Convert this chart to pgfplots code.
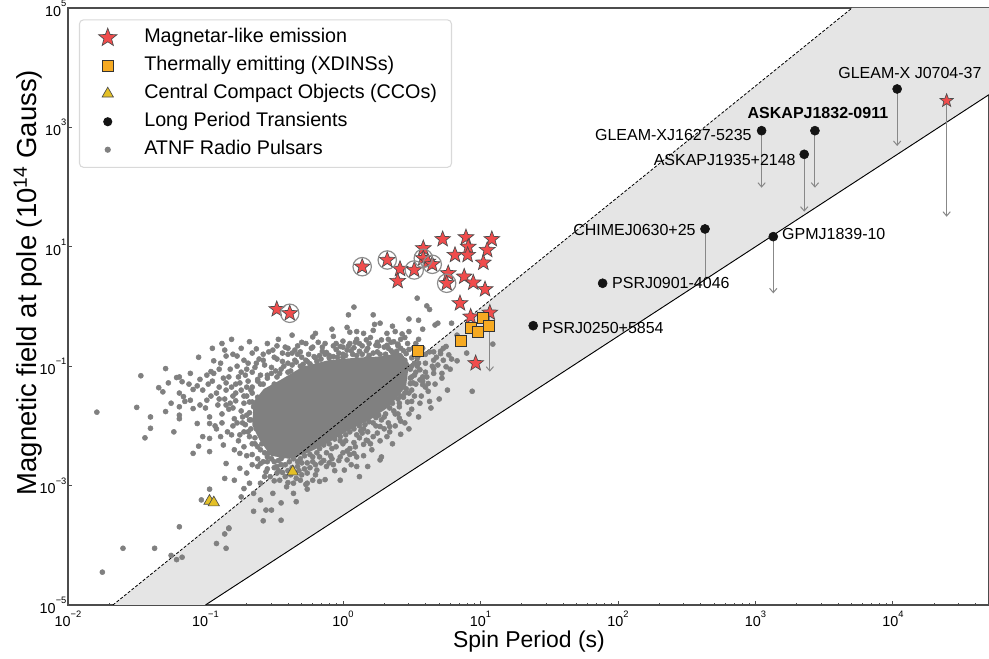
\documentclass[border=0pt]{standalone}
\usepackage{fontspec}
\setmainfont{Liberation Sans}
\usepackage{pgfplots}
\pgfplotsset{compat=1.18}
\usepackage{pgfplotstable}
\usetikzlibrary{arrows.meta,plotmarks}

\definecolor{magred}{RGB}{240,76,76}
\definecolor{xdorange}{RGB}{246,170,34}
\definecolor{ccoyellow}{RGB}{228,192,38}
\definecolor{bandgray}{RGB}{229,229,229}
\definecolor{psrgray}{RGB}{128,128,128}
\definecolor{arrgray}{RGB}{136,136,136}
\definecolor{lptblack}{RGB}{20,20,20}

% filled five-pointed star mark
\pgfdeclareplotmark{fstar}{%
  \pgfpathmoveto{\pgfqpointpolar{90}{\pgfplotmarksize}}%
  \pgfpathlineto{\pgfqpointpolar{126}{0.42\pgfplotmarksize}}%
  \pgfpathlineto{\pgfqpointpolar{162}{\pgfplotmarksize}}%
  \pgfpathlineto{\pgfqpointpolar{198}{0.42\pgfplotmarksize}}%
  \pgfpathlineto{\pgfqpointpolar{234}{\pgfplotmarksize}}%
  \pgfpathlineto{\pgfqpointpolar{270}{0.42\pgfplotmarksize}}%
  \pgfpathlineto{\pgfqpointpolar{306}{\pgfplotmarksize}}%
  \pgfpathlineto{\pgfqpointpolar{342}{0.42\pgfplotmarksize}}%
  \pgfpathlineto{\pgfqpointpolar{18}{\pgfplotmarksize}}%
  \pgfpathlineto{\pgfqpointpolar{54}{0.42\pgfplotmarksize}}%
  \pgfpathclose
  \pgfusepathqfillstroke
}

\newcommand{\tenpow}[1]{10\raisebox{7.4pt}{\fontsize{7}{8}\selectfont #1}}

% ATNF pulsars, log10(P/s) and log10(B/1e14 G), read off the picture
\pgfplotstableread{
lp lb
0.54 0.14
0.61 0.01
0.63 -0.05
0.48 -0.21
0.55 -0.23
0.67 -0.31
0.69 -0.28
0.27 -0.28
0.22 -0.14
0.08 -0.01
0.04 -0.14
-0.08 -0.38
-0.22 -0.51
0.05 -0.43
0.15 -0.45
0.22 -0.40
0.32 -0.45
0.38 -0.42
0.43 -0.46
0.37 -0.59
0.40 -0.63
0.32 -0.65
0.24 -0.65
0.17 -0.56
0.10 -0.55
-0.02 -0.67
-0.07 -0.66
0.03 -0.73
0.08 -0.69
-0.12 -0.77
-0.31 -0.76
-0.35 -0.73
-0.48 -0.66
-0.51 -0.73
-0.54 -0.76
-0.63 -0.71
-0.68 -0.59
-0.81 -0.55
-0.86 -0.73
-0.85 -0.83
-0.77 -0.83
-0.72 -0.90
-0.94 -0.91
-0.96 -1.09
-0.99 -1.15
-1.04 -1.22
-1.19 -1.18
-1.21 -1.19
-1.17 -1.26
-1.11 -1.12
-1.29 -1.04
-1.47 -1.16
-1.34 -1.36
-1.27 -1.28
-1.31 -1.43
-1.19 -1.45
-1.16 -1.51
-1.09 -1.39
-1.06 -1.33
-1.11 -1.57
-1.15 -1.59
-1.19 -1.68
-1.09 -1.71
-1.04 -1.65
-0.99 -1.57
-0.92 -1.45
-0.85 -1.40
-1.50 -1.69
-1.40 -1.85
-1.29 -1.76
-1.19 -1.82
-1.19 -1.88
-1.06 -1.96
-0.97 -1.96
-1.40 -2.04
-1.44 -2.20
-1.23 -2.10
-1.02 -2.18
-0.97 -2.21
-0.89 -2.18
-0.81 -2.15
-1.05 -2.34
-0.97 -2.43
-0.87 -2.32
-0.79 -2.40
-0.75 -2.46
-0.85 -2.63
-0.75 -2.71
-0.70 -2.79
-0.66 -2.65
-0.60 -2.63
-0.56 -2.77
-0.79 -2.91
-0.68 -2.96
-0.60 -2.96
-0.53 -2.85
-0.48 -2.79
-0.97 -3.06
-0.86 -2.88
-0.72 -3.05
-0.65 -3.13
-0.46 -2.91
-0.41 -3.02
-0.36 -2.96
-0.31 -2.91
-0.26 -2.96
-0.22 -2.91
-0.17 -2.93
-0.51 -3.13
-0.60 -3.24
-0.56 -3.41
-0.65 -3.43
-0.52 -3.41
-0.45 -3.29
-0.34 -3.27
-0.26 -3.06
-0.36 -3.13
-0.45 -3.58
-0.58 -3.59
-0.83 -3.72
-1.19 -3.69
-1.03 -3.24
-0.74 -3.19
0.41 -1.68
0.50 -1.59
0.63 -1.59
0.41 -1.87
0.34 -2.01
0.27 -2.01
0.22 -2.18
0.32 -2.18
0.28 -2.52
0.10 -2.68
0.08 -2.46
0.15 -2.31
0.03 -2.57
-0.07 -2.65
-0.12 -2.68
-0.19 -2.74
-0.26 -2.79
0.49 -1.29
0.56 -1.23
0.66 -1.12
0.72 -1.12
0.73 -0.90
0.62 -1.29
0.66 -0.90
-1.79 -1.77
-1.75 -4.45
-1.60 -4.05
-1.37 -4.05
-1.25 -4.17
-1.21 -4.24
-1.17 -4.20
-0.92 -3.97
-0.85 -4.05
-0.86 -3.81
-0.83 -3.71
-1.09 -2.46
-0.02 -2.91
0.01 -2.74
0.10 -2.52
0.14 -2.12
0.17 -2.24
0.27 -2.57
0.18 -2.68
0.12 -2.85
0.79 -0.28
0.83 -0.48
0.86 -0.59
0.90 -0.78
0.79 -0.88
0.83 -0.91
0.77 -0.81
0.73 -0.70
0.71 -0.75
1.09 -0.63
0.94 -1.42
0.58 -1.31
0.42 -2.14
0.66 -0.76
0.52 -0.95
0.56 -1.06
0.58 -1.18
0.49 -1.05
0.46 -0.79
0.54 -0.87
0.60 -0.95
0.66 -1.04
0.71 -0.79
0.75 -1.01
0.50 -1.18
0.44 -1.09
0.63 -0.76
0.75 -0.67
-0.45 -1.05
-0.40 -0.95
-0.35 -0.90
-0.30 -0.85
-0.25 -0.80
-0.20 -0.86
-0.15 -0.75
-0.10 -0.82
-0.05 -0.72
0.00 -0.80
0.05 -0.62
0.12 -0.75
0.18 -0.70
0.25 -0.76
0.30 -0.68
0.35 -0.74
0.42 -0.70
0.47 -0.62
-0.27 -0.62
-0.18 -0.60
0.00 -0.58
0.12 -0.62
0.28 -0.56
0.45 -0.52
-0.40 -0.80
-0.58 -0.90
-0.55 -1.15
-0.52 -1.02
-0.50 -1.30
-0.42 -0.68
-0.95 -1.25
-0.90 -1.55
-0.88 -1.80
-0.85 -1.28
-0.82 -1.62
-0.80 -2.00
-0.78 -1.45
-0.76 -1.18
-0.74 -1.75
-0.72 -2.10
-0.70 -1.35
-0.68 -1.60
-0.67 -1.90
-0.66 -1.10
-0.64 -2.30
-0.62 -1.25
-0.63 -1.72
-0.70 -2.50
-0.92 -2.05
-0.90 -1.05
-0.60 -2.40
-0.55 -2.60
-0.50 -2.70
-0.45 -2.65
-0.40 -2.75
-0.33 -2.68
-0.28 -2.72
-0.22 -2.60
-0.17 -2.52
-0.12 -2.45
-0.05 -2.35
0.02 -2.25
0.10 -2.15
0.15 -2.05
0.22 -1.95
0.30 -1.85
-0.42 -2.85
-0.10 -2.62
0.05 -2.48
0.20 -2.30
-0.52 -2.55
-0.30 -2.82
0.00 -2.45
0.50 -1.40
0.53 -1.10
0.55 -0.95
0.58 -1.25
0.60 -0.80
0.47 -1.60
0.40 -1.80
0.65 -1.00
0.68 -0.85
0.54 -0.75
0.52 -1.50
0.45 -1.45
0.36 -1.62
-0.68 -1.90
-0.66 -1.45
-0.60 -1.30
-0.48 -1.18
-0.38 -1.08
-0.29 -0.97
-0.19 -0.92
-0.10 -0.86
0.00 -0.85
0.10 -0.82
0.19 -0.82
0.27 -0.80
0.36 -0.77
0.44 -0.74
0.50 -0.86
0.50 -1.00
0.49 -1.20
0.46 -1.38
0.40 -1.55
0.34 -1.70
0.26 -1.82
0.19 -1.93
0.12 -2.00
0.05 -2.10
-0.02 -2.18
-0.10 -2.30
-0.17 -2.38
-0.24 -2.48
-0.31 -2.55
-0.39 -2.60
-0.47 -2.58
-0.55 -2.52
-0.64 -2.20
-0.67 -2.05
-0.66 -1.60
-1.02 -1.40
-1.00 -1.70
-0.98 -1.30
-0.97 -1.85
-0.96 -1.50
-0.94 -1.12
-0.93 -2.00
-0.91 -1.65
-0.90 -1.35
-0.89 -0.95
-0.88 -1.95
-0.87 -1.20
-0.86 -1.55
-0.84 -2.10
-0.83 -1.72
-0.82 -1.05
-0.81 -1.35
-0.80 -0.80
-0.79 -1.88
-0.78 -1.58
-0.77 -1.00
-0.76 -2.25
-0.75 -1.28
-0.74 -0.70
-0.73 -1.95
-0.72 -1.50
-0.71 -1.15
-0.70 -1.82
-0.69 -0.95
-0.68 -2.18
-0.67 -1.40
-0.66 -0.78
-0.65 -1.68
-0.64 -1.02
-0.63 -2.05
-0.62 -1.52
-0.61 -0.88
-0.60 -1.15
-0.59 -2.30
-0.58 -1.62
-0.57 -0.98
-0.56 -1.42
-0.55 -0.62
-0.50 -0.85
-0.47 -0.55
-0.44 -0.92
-0.40 -0.70
-0.37 -0.48
-0.33 -0.80
-0.30 -0.60
-0.26 -0.92
-0.23 -0.70
-0.20 -0.45
-0.17 -0.82
-0.13 -0.62
-0.10 -0.95
-0.07 -0.50
-0.04 -0.85
0.00 -0.68
0.03 -0.35
0.07 -0.80
0.10 -0.42
0.14 -0.66
0.17 -0.88
0.20 -0.52
0.23 -0.30
0.26 -0.66
0.30 -0.88
0.33 -0.55
0.36 -0.33
0.39 -0.75
0.42 -0.55
0.45 -0.90
0.48 -0.42
0.51 -0.70
0.55 -0.55
0.58 -0.38
0.50 -1.72
0.53 -1.30
0.55 -1.85
0.57 -1.50
0.60 -1.10
0.62 -1.42
0.64 -1.70
0.67 -1.30
0.69 -0.98
0.70 -1.55
0.72 -1.20
0.76 -1.40
0.78 -1.05
0.45 -1.95
0.48 -2.05
0.38 -2.00
0.42 -1.50
-0.62 -2.55
-0.57 -2.85
-0.54 -2.45
-0.50 -2.92
-0.47 -2.75
-0.43 -2.50
-0.40 -2.95
-0.37 -2.70
-0.34 -2.88
-0.30 -2.62
-0.27 -2.98
-0.24 -2.70
-0.20 -2.82
-0.16 -2.62
-0.13 -2.90
-0.09 -2.50
-0.06 -2.75
-0.03 -2.58
0.00 -2.30
0.03 -2.42
0.06 -2.65
0.09 -2.35
0.12 -2.20
0.15 -2.50
0.18 -2.10
0.21 -2.40
0.24 -2.00
0.27 -2.25
0.30 -2.05
0.33 -1.95
0.36 -2.30
0.38 -1.80
-0.95 -0.70
-1.05 -0.85
-0.88 -0.62
-1.12 -1.30
-1.25 -1.62
-0.70 -1.50
-0.72 -1.62
-0.66 -1.35
-0.62 -1.22
-0.58 -1.30
-0.55 -1.20
-0.52 -1.12
-0.49 -1.08
-0.46 -1.12
-0.43 -1.00
-0.40 -1.10
-0.37 -0.98
-0.34 -0.93
-0.31 -1.00
-0.27 -0.90
-0.24 -0.96
-0.21 -0.84
-0.16 -0.88
-0.13 -0.80
-0.07 -0.84
-0.03 -0.78
0.02 -0.82
0.06 -0.74
0.14 -0.80
0.17 -0.74
0.22 -0.78
0.31 -0.80
0.33 -0.70
0.39 -0.78
0.48 -0.72
0.52 -0.80
0.54 -1.00
0.52 -1.15
0.51 -1.28
0.48 -1.45
0.44 -1.52
0.41 -1.62
0.37 -1.75
0.31 -1.80
0.28 -1.90
0.24 -1.86
0.16 -1.98
0.13 -2.08
0.08 -2.05
0.02 -2.15
-0.02 -2.25
-0.06 -2.22
-0.08 -2.38
-0.14 -2.32
-0.19 -2.45
-0.22 -2.52
-0.28 -2.50
-0.33 -2.60
-0.36 -2.55
-0.42 -2.65
-0.45 -2.55
-0.50 -2.60
-0.57 -2.45
-0.58 -2.60
-0.62 -2.35
-0.66 -2.30
-0.69 -2.10
-0.68 -1.78
-0.71 -1.98
-0.73 -1.85
-0.74 -1.40
-0.69 -1.25
-0.80 -1.70
-0.78 -1.30
-0.74 -1.10
-0.70 -1.05
-0.63 -0.95
-0.58 -0.80
-0.48 -0.88
-0.44 -0.78
-0.37 -0.78
-0.33 -0.66
-0.22 -0.68
-0.15 -0.68
-0.05 -0.62
0.04 -0.66
0.09 -0.60
0.19 -0.62
0.25 -0.60
0.35 -0.60
0.40 -0.66
0.53 -0.62
0.58 -0.70
0.61 -1.18
0.60 -1.35
0.56 -1.62
0.48 -1.80
0.42 -1.92
0.34 -2.10
0.25 -2.12
0.18 -2.25
0.08 -2.28
0.05 -2.38
-0.02 -2.52
-0.08 -2.55
-0.14 -2.58
-0.20 -2.65
-0.26 -2.62
-0.32 -2.75
-0.38 -2.82
-0.44 -2.78
-0.48 -2.68
-0.55 -2.72
-0.62 -2.68
-0.66 -2.48
-0.72 -2.35
-0.75 -2.15
-0.77 -1.95
-0.80 -1.50
-0.85 -1.65
-0.83 -1.18
}\cloudtab

% densest part of the pulsar population (outline of the solid grey core)
\pgfplotstableread{
lp lb
-0.64 -1.60
-0.57 -1.40
-0.45 -1.25
-0.29 -1.03
-0.10 -0.92
0.10 -0.88
0.27 -0.86
0.42 -0.80
0.47 -0.96
0.45 -1.33
0.33 -1.66
0.19 -1.88
0.04 -2.05
-0.11 -2.26
-0.25 -2.42
-0.39 -2.53
-0.52 -2.48
-0.60 -2.22
-0.65 -1.98
-0.64 -1.60
}\coretab

\pgfplotstableread{
P B
1.38 4.64
2.10 6.01
2.60 4.25
2.50 2.67
3.30 4.09
3.84 9.44
3.84 6.42
4.15 5.62
4.46 5.09
5.31 13.4
7.85 14.4
8.15 10.0
6.53 7.29
8.07 7.29
12.1 13.4
11.2 8.83
10.5 5.42
5.83 3.60
5.68 2.45
7.62 3.16
8.87 2.51
10.8 1.94
7.10 1.13
8.49 0.675
11.7 0.787
9.23 0.112
0.33 0.90
0.41 0.77
}\magtab

\pgfplotstableread{
P B
1.38 4.64
2.10 6.01
3.30 4.09
3.84 6.42
4.46 5.09
5.68 2.45
0.41 0.77
}\ringtab

\pgfplotstableread{
P B
3.49 0.182
7.21 0.267
8.53 0.441
9.64 0.370
10.5 0.634
11.6 0.471
}\xdtab

\pgfplotstableread{
P B
0.107 5.52e-4
0.115 5.18e-4
0.431 1.71e-3
}\ccotab

\pgfplotstableread{
P B
10740 4400
2710 881
1109 881
2265 354
430 19.9
1349 14.8
77.4 2.45
24.2 0.477
}\lpttab

\begin{document}
\begin{tikzpicture}
\begin{axis}[
  width=690.75pt, height=447.75pt, scale only axis,
  xmode=log, ymode=log,
  xmin=1e-2, xmax=5e4, ymin=1e-5, ymax=1e5,
  axis line style={black!70, line width=0.9pt},
  xtick={1e-2,1e-1,1,10,100,1000,10000},
  xticklabels={\tenpow{−2},\tenpow{−1},\tenpow{0},\tenpow{1},\tenpow{2},\tenpow{3},\tenpow{4}},
  minor xtick={0.02,0.03,0.04,0.05,0.06,0.07,0.08,0.09,0.2,0.3,0.4,0.5,0.6,0.7,0.8,0.9,2,3,4,5,6,7,8,9,20,30,40,50,60,70,80,90,200,300,400,500,600,700,800,900,2000,3000,4000,5000,6000,7000,8000,9000,20000,30000,40000},
  ytick={1e-5,1e-3,1e-1,10,1000,100000},
  yticklabels={\tenpow{−5},\tenpow{−3},\tenpow{−1},\tenpow{1},\tenpow{3},\tenpow{5}},
  yminorticks=false,
  tick align=inside, xtick pos=bottom, ytick pos=left,
  major tick length=3pt, minor tick length=1.6pt,
  tick style={black!70, line width=0.6pt},
  xticklabel style={anchor=base, inner sep=0pt, yshift=-16.5pt, font=\fontsize{10.8}{12}\selectfont},
  yticklabel style={anchor=base east, inner sep=0pt, xshift=-1pt, yshift=-6.3pt, font=\fontsize{10.8}{12}\selectfont},
  xlabel={Spin Period (s)},
  ylabel={Magnetic field at pole (10\textsuperscript{14} Gauss)},
  every axis x label/.style={at={(axis description cs:0.5005,-0.0704)}, anchor=base, font=\fontsize{17.2}{20}\selectfont},
  every axis y label/.style={at={(axis description cs:-0.0434,0.540)}, anchor=center, rotate=90, font=\fontsize{20.6}{24}\selectfont},
  legend style={at={(axis description cs:0.0119,0.981)}, anchor=north west,
    draw=black!15, line width=0.8pt, rounded corners=3pt, fill=white,
    font=\fontsize{14.8}{17}\selectfont, inner xsep=10.8pt, inner ysep=6.2pt,
    row sep=7pt, nodes={inner sep=0pt, text height=10.8pt, text depth=3.2pt},
    /tikz/column sep=0pt},
  legend cell align=left,
  legend image code/.code={\draw[#1] plot coordinates {(10pt,0pt)}; \path (0pt,0pt) (37pt,0pt);},
]

% band between the two lines
\addplot[fill=bandgray, draw=none, forget plot] coordinates {
  (0.02123,1e-5) (5047,1e5) (5e4,1e5) (5e4,3535) (0.1,1e-5) (0.02123,1e-5)};

% ATNF pulsars
\addplot[fill=psrgray, draw=psrgray, line width=2pt, line join=round, forget plot]
  table[x expr={pow(10,\thisrow{lp})}, y expr={pow(10,\thisrow{lb})}] {\coretab};
\addplot[only marks, mark=*, mark size=1.9pt, color=psrgray, forget plot]
  table[x expr={pow(10,\thisrow{lp})}, y expr={pow(10,\thisrow{lb})}] {\cloudtab};

% boundary lines
\addplot[black, line width=0.6pt, dash pattern=on 2.2pt off 1.4pt, forget plot] coordinates {(0.02123,1e-5) (5047,1e5)};
\addplot[black, line width=0.7pt, forget plot] coordinates {(0.1,1e-5) (5e4,3535)};

% downward arrows
\addplot[arrgray, line width=0.75pt, -{Straight Barb[length=3.2pt,width=5.5pt]}, forget plot] coordinates {(10740,4400) (10740,488)};
\addplot[arrgray, line width=0.75pt, -{Straight Barb[length=3.2pt,width=5.5pt]}, forget plot] coordinates {(2710,881) (2710,97.7)};
\addplot[arrgray, line width=0.75pt, -{Straight Barb[length=3.2pt,width=5.5pt]}, forget plot] coordinates {(1109,881) (1109,97.7)};
\addplot[arrgray, line width=0.75pt, -{Straight Barb[length=3.2pt,width=5.5pt]}, forget plot] coordinates {(2265,354) (2265,38.7)};
\addplot[arrgray, line width=0.75pt, forget plot] coordinates {(430,19.9) (430,3.16)};
\addplot[arrgray, line width=0.75pt, -{Straight Barb[length=3.2pt,width=5.5pt]}, forget plot] coordinates {(1349,14.8) (1349,1.66)};
\addplot[arrgray, line width=0.75pt, -{Straight Barb[length=3.2pt,width=5.5pt]}, forget plot] coordinates {(24600,2800) (24600,31.9)};
\addplot[arrgray, line width=0.75pt, -{Straight Barb[length=3.2pt,width=5.5pt]}, forget plot] coordinates {(11.7,0.787) (11.7,0.081)};

% magnetars
\addplot[only marks, mark=fstar, mark size=6.2pt, mark options={fill=magred, draw=black!70, line width=0.5pt}, forget plot] table[x=P, y=B] {\magtab};
\addplot[only marks, mark=o, mark size=6.9pt, mark options={draw=black!45, line width=0.9pt}, forget plot] table[x=P, y=B] {\ringtab};
% XDINSs
\addplot[only marks, mark=square*, mark size=4.1pt, mark options={fill=xdorange, draw=black!80, line width=0.6pt}, forget plot] table[x=P, y=B] {\xdtab};
% CCOs
\addplot[only marks, mark=triangle*, mark size=4.9pt, mark options={fill=ccoyellow, draw=black!70, line width=0.5pt}, forget plot] table[x=P, y=B] {\ccotab};
% long period transients
\addplot[only marks, mark=*, mark size=3.4pt, mark options={fill=lptblack, draw=lptblack}, forget plot] table[x=P, y=B] {\lpttab};
\addplot[only marks, mark=fstar, mark size=5.2pt, mark options={fill=magred, draw=black!70, line width=0.5pt}, forget plot] coordinates {(24600,2800)};

% labels
\begin{scope}[every node/.style={inner sep=0pt, font=\fontsize{12}{14}\selectfont}]
\node[anchor=base] at (axis cs:13300,6640) {GLEAM-X J0704-37};
\node[anchor=base, font=\fontsize{12}{14}\selectfont\bfseries] at (axis cs:2850,1383) {ASKAPJ1832-0911};
\node[anchor=base east] at (axis cs:943,615) {GLEAM-XJ1627-5235};
\node[anchor=base east] at (axis cs:1971,234) {ASKAPJ1935+2148};
\node[anchor=base east] at (axis cs:369,15.3) {CHIMEJ0630+25};
\node[anchor=base west] at (axis cs:1560,13.0) {GPMJ1839-10};
\node[anchor=base west] at (axis cs:90.4,2.02) {PSRJ0901-4046};
\node[anchor=base west] at (axis cs:28.0,0.356) {PSRJ0250+5854};
\end{scope}

% legend
\addlegendimage{only marks, mark=fstar, mark size=7.2pt, mark options={fill=magred, draw=black!70, line width=0.5pt}}
\addlegendentry{Magnetar-like emission}
\addlegendimage{only marks, mark=square*, mark size=4pt, mark options={fill=xdorange, draw=black!80, line width=0.6pt}}
\addlegendentry{Thermally emitting (XDINSs)}
\addlegendimage{only marks, mark=triangle*, mark size=4.9pt, mark options={fill=ccoyellow, draw=black!70, line width=0.5pt}}
\addlegendentry{Central Compact Objects (CCOs)}
\addlegendimage{only marks, mark=*, mark size=3pt, mark options={fill=lptblack, draw=lptblack}}
\addlegendentry{Long Period Transients}
\addlegendimage{only marks, mark=*, mark size=1.9pt, mark options={fill=psrgray, draw=psrgray}}
\addlegendentry{ATNF Radio Pulsars}
\end{axis}
\pgfresetboundingbox
\path[use as bounding box] (-51pt,-40.5pt) rectangle (690.76pt,453.75pt);
\end{tikzpicture}
\end{document}
